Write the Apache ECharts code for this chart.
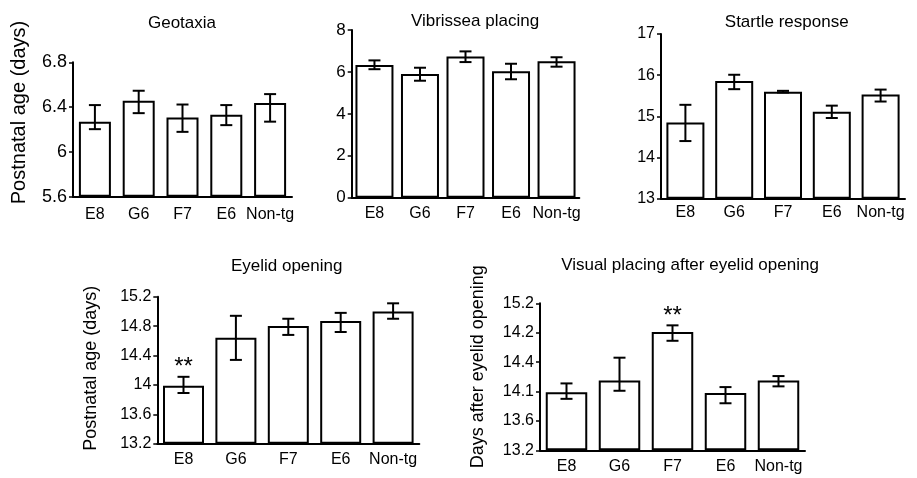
<!DOCTYPE html>
<html><head><meta charset="utf-8">
<script src="https://cdn.jsdelivr.net/npm/echarts@6/dist/echarts.min.js"></script>
<style>html,body{margin:0;padding:0;background:#fff}#c{width:917px;height:478px}</style>
</head><body><div id="c"></div>
<script>
const categories = ['E8','G6','F7','E6','Non-tg'];

const geoMean = [6.27, 6.456, 6.307, 6.331, 6.436];
const geoLow  = [6.203, 6.346, 6.179, 6.239, 6.27];
const geoHigh = [6.418, 6.546, 6.423, 6.418, 6.516];

const vibMean = [6.33, 5.90, 6.73, 6.03, 6.51];
const vibLow  = [6.13, 5.58, 6.47, 5.65, 6.25];
const vibHigh = [6.55, 6.20, 6.98, 6.39, 6.70];

const staMean = [14.85, 15.86, 15.60, 15.11, 15.53];
const staLow  = [14.40, 15.66, 15.58, 14.96, 15.36];
const staHigh = [15.28, 16.01, 15.62, 15.26, 15.65];

const eyeMean = [13.99, 14.64, 14.80, 14.87, 15.00];
const eyeLow  = [13.89, 14.34, 14.68, 14.72, 14.90];
const eyeHigh = [14.11, 14.94, 14.90, 14.98, 15.11];
const eyeSig  = ['**','','','',''];

const visMean = [13.99, 14.15, 14.81, 13.98, 14.15];
const visLow  = [13.90, 14.01, 14.69, 13.84, 14.07];
const visHigh = [14.11, 14.46, 14.90, 14.06, 14.21];
const visSig  = ['','','**','',''];
// printed tick labels of the last panel (as they appear in the figure)
const visTickLabels = ['13.2','13.6','14.1','14.4','14.2','15.2'];

const titles = ['Geotaxia','Vibrissea placing','Startle response','Eyelid opening','Visual placing after eyelid opening'];

const FONT = '"Liberation Sans", Arial, Helvetica, sans-serif';

const panels = [
  {mean: geoMean, low: geoLow, high: geoHigh, sig: null, min: 5.6, max: 6.8, interval: 0.4,
   grid: {left: 73, top: 62.3, width: 219, height: 134.4}, barWidth: 32,
   name: 'Postnatal age (days)', nameGap: 44, nameSize: 20, namePad: [0, 0, 0, 34], tickSize: 18, labMargin: 10,
   title: {x: 177, y: 10}},
  {mean: vibMean, low: vibLow, high: vibHigh, sig: null, min: 0, max: 8, interval: 2,
   grid: {left: 351.7, top: 30, width: 227.6, height: 167.7}, barWidth: 38,
   name: '', tickSize: 17, labMargin: 8, title: {x: 470, y: 8}},
  {mean: staMean, low: staLow, high: staHigh, sig: null, min: 13, max: 17, interval: 1,
   grid: {left: 661, top: 34, width: 244, height: 164.7}, barWidth: 38,
   name: '', tickSize: 16, labMargin: 6, title: {x: 781.7, y: 9}},
  {mean: eyeMean, low: eyeLow, high: eyeHigh, sig: eyeSig, min: 13.2, max: 15.2, interval: 0.4,
   grid: {left: 157.3, top: 296.7, width: 262, height: 147}, barWidth: 41,
   name: 'Postnatal age (days)', nameGap: 57, nameSize: 18, namePad: [0, 0, 0, 4], tickSize: 16, labMargin: 8,
   title: {x: 281.7, y: 253}},
  {mean: visMean, low: visLow, high: visHigh, sig: visSig, min: 13.2, max: 15.2, interval: 0.4,
   grid: {left: 540, top: 303.3, width: 265, height: 147}, barWidth: 41.5,
   name: 'Days after eyelid opening', nameGap: 53, nameSize: 18, namePad: [0, 0, 0, 20], tickSize: 16, labMargin: 8,
   labels: visTickLabels, title: {x: 685, y: 252}}
];

const option = {
  animation: false,
  backgroundColor: '#fff',
  textStyle: {fontFamily: FONT, color: '#000'},
  title: [], grid: [], xAxis: [], yAxis: [], series: []
};

panels.forEach((p, i) => {
  option.title.push({
    text: titles[i], left: p.title.x, top: p.title.y, textAlign: 'center',
    textStyle: {fontFamily: FONT, fontSize: 17, fontWeight: 'normal', color: '#000'}
  });
  option.grid.push(Object.assign({containLabel: false}, p.grid));
  option.xAxis.push({
    type: 'category', gridIndex: i, data: categories,
    axisLine: {show: true, lineStyle: {color: '#000', width: 2}},
    axisTick: {show: false},
    axisLabel: {color: '#000', fontSize: 16, fontFamily: FONT, margin: p.labMargin, interval: 0}
  });
  const ya = {
    type: 'value', gridIndex: i, min: p.min, max: p.max, interval: p.interval, startValue: p.min,
    axisLine: {show: true, lineStyle: {color: '#000', width: 2}},
    axisTick: {show: true, inside: false, length: 4, lineStyle: {color: '#000', width: 1.5}},
    splitLine: {show: false},
    axisLabel: {color: '#000', fontSize: p.tickSize, fontFamily: FONT, margin: 6},
    name: p.name, nameLocation: 'middle', nameGap: p.nameGap || 40, nameRotate: 90,
    nameTextStyle: {color: '#000', fontSize: p.nameSize || 17, fontFamily: FONT, padding: p.namePad || 0}
  };
  if (p.labels) {
    const labs = p.labels, mn = p.min, iv = p.interval;
    ya.axisLabel.formatter = function (v) {
      const k = Math.round((v - mn) / iv);
      return labs[k] !== undefined ? labs[k] : '';
    };
  }
  option.yAxis.push(ya);
  option.series.push({
    type: 'bar', xAxisIndex: i, yAxisIndex: i, data: p.mean, barWidth: p.barWidth,
    itemStyle: {color: '#fff', borderColor: '#000', borderWidth: 2}, clip: false, z: 2
  });
  const errData = p.mean.map((m, k) => [k, p.low[k], p.high[k], p.sig ? p.sig[k] : '']);
  option.series.push({
    type: 'custom', xAxisIndex: i, yAxisIndex: i, data: errData, z: 5,
    renderItem: function (params, api) {
      const x = api.value(0);
      const lo = api.coord([x, api.value(1)]);
      const hi = api.coord([x, api.value(2)]);
      const cw = 6;
      const st = {stroke: '#000', lineWidth: 2, fill: null};
      const children = [
        {type: 'line', shape: {x1: hi[0], y1: hi[1], x2: lo[0], y2: lo[1]}, style: st},
        {type: 'line', shape: {x1: hi[0] - cw, y1: hi[1], x2: hi[0] + cw, y2: hi[1]}, style: st},
        {type: 'line', shape: {x1: lo[0] - cw, y1: lo[1], x2: lo[0] + cw, y2: lo[1]}, style: st}
      ];
      const s = api.value(3);
      if (s) {
        children.push({type: 'text', x: hi[0], y: hi[1] - 9,
          style: {text: s, fontSize: 24, fontFamily: FONT, fill: '#000', align: 'center', verticalAlign: 'middle'}});
      }
      return {type: 'group', children: children};
    }
  });
});

const chart = echarts.init(document.getElementById('c'), null, {renderer: 'canvas'});
chart.setOption(option);
</script>
</body></html>
